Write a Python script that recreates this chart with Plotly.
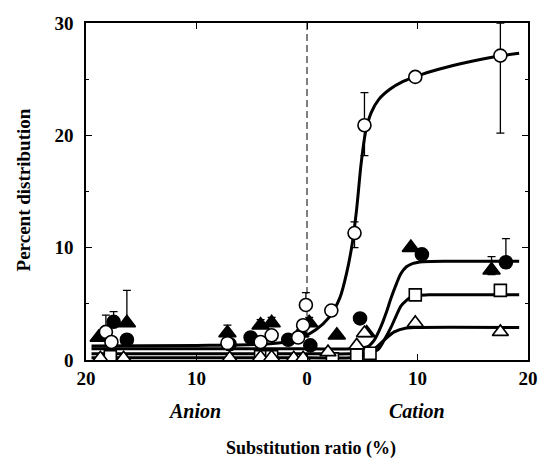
import plotly.graph_objects as go

# ---- data (substitution ratio: anion side negative, cation side positive) ----
# Open circles
oc_x = [-18.2, -17.7, -7.2, -4.2, -3.2, -0.8, -0.35, -0.1, 2.2, 4.3, 5.2, 9.8, 17.5]
oc_y = [2.5, 1.6, 1.5, 1.6, 2.2, 2.0, 3.1, 4.9, 4.4, 11.3, 20.9, 25.2, 27.1]
oc_eu = [1.5, 0, 0, 0, 0, 0, 0, 1.1, 0, 1.0, 2.9, 0.4, 2.9]
oc_ed = [0, 0, 0, 0, 0, 0, 0, 0.5, 0, 1.3, 2.7, 0.4, 6.9]

# Filled circles
fc_x = [-17.5, -16.3, -7.0, -5.1, -1.7, 0.3, 4.8, 10.4, 18.0]
fc_y = [3.4, 1.8, 1.4, 2.0, 1.8, 1.3, 3.7, 9.4, 8.7]
fc_eu = [0.9, 0, 0, 0, 0, 0, 0, 0, 2.1]
fc_ed = [0, 0, 0, 0, 0, 0, 0, 0, 0.5]

# Filled triangles
ft_x = [-18.85, -16.3, -7.2, -4.2, -3.2, -0.6, 0.2, 2.7, 5.4, 9.4, 16.7]
ft_y = [2.0, 3.3, 2.4, 3.1, 3.3, 2.4, 3.3, 2.2, 2.4, 10.0, 8.0]
ft_eu = [0, 2.9, 0.7, 0.5, 0.5, 0, 0.5, 0, 0, 0, 1.2]
ft_ed = [0, 0, 0, 0, 0, 0, 0, 0, 0, 0, 0.4]

# Open squares
os_x = [-17.8, -4.2, -3.2, 2.3, 4.5, 5.7, 9.8, 17.5]
os_y = [0.3, 0.3, 0.3, 0.1, 0.45, 0.6, 5.8, 6.2]
os_e = [0, 0, 0, 0, 0, 0, 0.3, 0.5]

# Open triangles
ot_x = [-18.7, -16.6, -7.0, -4.2, -3.2, -1.2, -0.35, 1.9, 4.5, 5.2, 9.8, 17.5]
ot_y = [0.15, 0.15, 0.15, 0.25, 0.25, 0.15, 0.15, 0.7, 1.3, 2.4, 3.3, 2.5]
ot_e = [0, 0, 0, 0, 0, 0, 0, 0, 0, 0, 0.2, 0]

# Fitted curves
oc_curve_x = [-19.5, -10, -4, -2, -0.5, 0.8, 2.0, 3.0, 3.6, 4.1, 4.5, 4.9, 5.3, 5.8, 6.5,
              7.5, 8.7, 10.0, 12.0, 14.5, 17.0, 19.2]
oc_curve_y = [1.25, 1.3, 1.4, 1.6, 2.0, 2.7, 3.8, 5.6, 7.8, 10.4, 13.5, 17.5, 20.3, 22.0, 23.2,
              24.1, 24.8, 25.3, 25.9, 26.5, 27.0, 27.3]
fc_curve_x = [-19.5, -10, 0, 4.0, 5.5, 6.1, 6.7, 7.2, 7.6, 8.1, 8.5, 9.0, 9.6, 10.5, 13, 19.2]
fc_curve_y = [1.0, 1.0, 1.0, 1.0, 1.2, 1.8, 3.0, 4.3, 5.5, 6.8, 7.7, 8.3, 8.6, 8.75, 8.8, 8.8]
os_curve_x = [-19.5, -10, 0, 4.0, 5.5, 6.4, 7.0, 7.6, 8.1, 8.5, 9.0, 9.4, 9.9, 11, 19.2]
os_curve_y = [0.55, 0.55, 0.55, 0.55, 0.6, 0.9, 1.8, 2.9, 4.0, 4.8, 5.3, 5.6, 5.75, 5.8, 5.8]
ot_curve_x = [-19.5, -10, 0, 4.0, 5.0, 6.0, 7.0, 7.9, 9.0, 10.0, 19.2]
ot_curve_y = [0.2, 0.2, 0.2, 0.2, 0.35, 0.9, 1.8, 2.5, 2.85, 2.9, 2.9]

x_tickvals = [-20, -10, 0, 10, 20]
x_ticktext = ["20", "10", "0", "10", "20"]
y_tickvals = [0, 10, 20, 30]

FONT = "Liberation Serif, Times New Roman, serif"

fig = go.Figure()

for cx, cy in [(ot_curve_x, ot_curve_y), (os_curve_x, os_curve_y),
               (fc_curve_x, fc_curve_y), (oc_curve_x, oc_curve_y)]:
    fig.add_trace(go.Scatter(x=cx, y=cy, mode="lines",
                             line=dict(color="black", width=3, shape="spline", smoothing=0.8),
                             hoverinfo="skip", showlegend=False))


def pts(x, y, eu, ed, symbol, size, fill):
    return go.Scatter(
        x=x, y=y, mode="markers", showlegend=False,
        marker=dict(symbol=symbol, size=size, color=fill,
                    line=dict(color="black", width=1.6)),
        error_y=dict(type="data", symmetric=False, array=eu, arrayminus=ed,
                     color="black", thickness=1.3, width=4),
    )


fig.add_trace(pts(ft_x, ft_y, ft_eu, ft_ed, "triangle-up", 15, "black"))
fig.add_trace(pts(fc_x, fc_y, fc_eu, fc_ed, "circle", 13, "black"))
fig.add_trace(pts(os_x, os_y, os_e, os_e, "square", 12, "white"))
fig.add_trace(pts(ot_x, ot_y, ot_e, ot_e, "triangle-up", 14, "white"))
fig.add_trace(pts(oc_x, oc_y, oc_eu, oc_ed, "circle", 13, "white"))

fig.add_shape(type="line", x0=0, x1=0, y0=0, y1=30, xref="x", yref="y",
              line=dict(color="black", width=1, dash="7px,4px"), layer="below")

axis_common = dict(showline=True, linecolor="black", linewidth=1.5, mirror="ticks",
                   ticks="inside", ticklen=6, tickwidth=1.2, tickcolor="black",
                   showgrid=False, zeroline=False,
                   tickfont=dict(family=FONT, size=19, color="black", weight="bold"))

fig.update_xaxes(range=[-20, 20], tickvals=x_tickvals, ticktext=x_ticktext, **axis_common)
fig.update_yaxes(range=[0, 30], tickvals=y_tickvals, ticklabelstandoff=7,
                 minor=dict(ticks="inside", ticklen=3, dtick=5, tickcolor="black"),
                 **axis_common)

fig.add_annotation(text="Anion", x=197, y=411, xref="paper", yref="paper", showarrow=False,
                   font=dict(family=FONT, size=20, color="black", weight="bold", style="italic"))
fig.add_annotation(text="Cation", x=424, y=411, xref="paper", yref="paper", showarrow=False,
                   font=dict(family=FONT, size=20, color="black", weight="bold", style="italic"))
fig.add_annotation(text="Substitution ratio (%)", x=316, y=448, xref="paper", yref="paper",
                   showarrow=False,
                   font=dict(family=FONT, size=18, color="black", weight="bold"))
fig.add_annotation(text="Percent distribution", x=22, y=190, xref="paper", yref="paper",
                   showarrow=False, textangle=-90,
                   font=dict(family=FONT, size=19, color="black", weight="bold"))

# convert pixel positions of annotations to paper coordinates
W, H = 549, 462
L, R, T, B = 86, 11, 23, 102
pw, ph = W - L - R, H - T - B
for a in fig.layout.annotations:
    a.x = (a.x - L) / pw
    a.y = (H - B - a.y) / ph
    a.xanchor = "center"
    a.yanchor = "middle"

fig.update_layout(width=W, height=H, margin=dict(l=L, r=R, t=T, b=B),
                  paper_bgcolor="white", plot_bgcolor="white")

fig.write_html("out.html")
